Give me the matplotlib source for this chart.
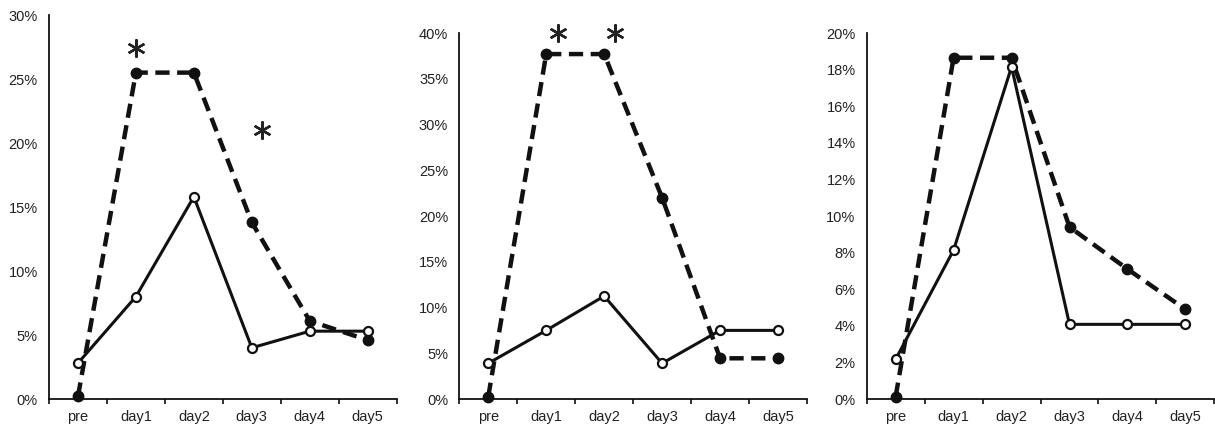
import matplotlib
matplotlib.use('Agg')
import matplotlib.pyplot as plt
from matplotlib.ticker import FuncFormatter, FixedLocator

plt.rcParams['font.family'] = ['Liberation Sans', 'DejaVu Sans']

days = ['pre', 'day1', 'day2', 'day3', 'day4', 'day5']

# panel 1 (percent)
p1_dashed = [0.2, 25.5, 25.5, 13.8, 6.1, 4.6]
p1_solid = [2.8, 8.0, 15.8, 4.0, 5.3, 5.3]
p1_star_x = [1.0, 3.18]
p1_star_y = [27.4, 21.0]

# panel 2
p2_dashed = [0.25, 37.7, 37.7, 22.0, 4.45, 4.45]
p2_solid = [3.9, 7.5, 11.25, 3.9, 7.5, 7.5]
p2_star_x = [1.2, 2.18]
p2_star_y = [40.0, 40.0]

# panel 3
p3_dashed = [0.13, 18.65, 18.65, 9.4, 7.1, 4.9]
p3_solid = [2.17, 8.14, 18.15, 4.08, 4.08, 4.08]
p3_star_x = []
p3_star_y = []

panels = [
    (p1_dashed, p1_solid, p1_star_x, p1_star_y, 30, 5, [0.0403, 0.0699, 0.2862, 0.8951]),
    (p2_dashed, p2_solid, p2_star_x, p2_star_y, 40, 5, [0.3780, 0.0699, 0.2862, 0.8531]),
    (p3_dashed, p3_solid, p3_star_x, p3_star_y, 20, 2, [0.7133, 0.0699, 0.2862, 0.8531]),
]

fig = plt.figure(figsize=(12.15, 4.29), dpi=100)

for dashed, solid, star_x, star_y, ymax, step, rect in panels:
    ax = fig.add_axes(rect)
    x = list(range(len(days)))
    ax.plot(x, dashed, color='#111111', lw=3.2, ls=(0, (3.2, 1.7)),
            marker='o', ms=7.5, mfc='#111111', mec='#111111', zorder=2,
            clip_on=False)
    ax.plot(x, solid, color='#111111', lw=2.2, ls='-',
            marker='o', ms=6.5, mfc='white', mec='#111111', mew=1.6, zorder=3,
            clip_on=False)
    # significance asterisks
    ax.plot(star_x, star_y, ls='none', marker=(6, 2, 0), ms=13, mew=1.7,
            color='#222222', clip_on=False, zorder=4)

    ax.set_xlim(-0.5, 5.5)
    ax.set_ylim(0, ymax)
    ax.set_yticks(range(0, ymax + 1, step))
    ax.yaxis.set_major_formatter(FuncFormatter(lambda v, p: f'{v:.0f}%'))
    # category labels centred, tick marks on the boundaries
    ax.set_xticks(x)
    ax.set_xticklabels(days)
    ax.xaxis.set_minor_locator(FixedLocator([i + 0.5 for i in range(-1, 6)]))
    ax.tick_params(axis='x', which='major', length=0, pad=8, labelsize=10.5, labelcolor='#222222')
    ax.tick_params(axis='x', which='minor', length=3.5, width=1.2, direction='out', color='#111111')
    ax.tick_params(axis='y', length=0, pad=8, labelsize=10.5, labelcolor='#222222')

    for side in ['top', 'right']:
        ax.spines[side].set_visible(False)
    for side in ['left', 'bottom']:
        ax.spines[side].set_linewidth(1.3)
        ax.spines[side].set_color('#111111')

fig.savefig('out.png', dpi=100)
